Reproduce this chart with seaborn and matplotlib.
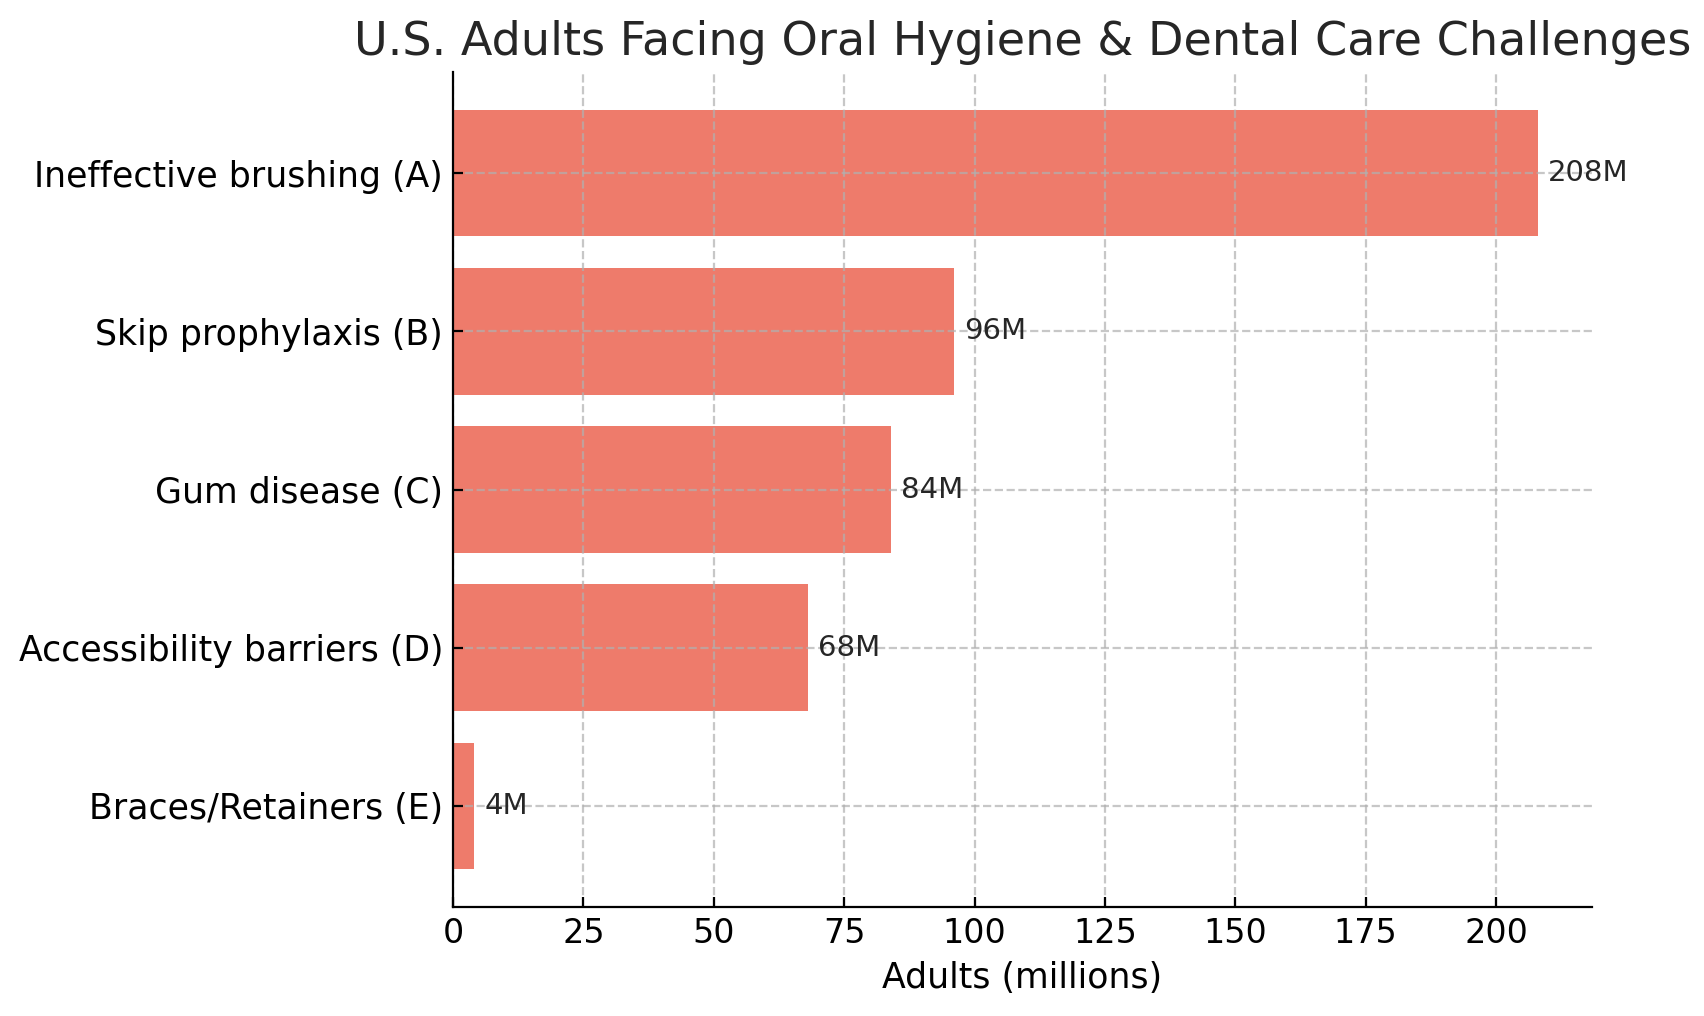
import matplotlib
matplotlib.use("Agg")
import matplotlib.pyplot as plt
import seaborn as sns
import pandas as pd

categories = [
    "Ineffective brushing (A)",
    "Skip prophylaxis (B)",
    "Gum disease (C)",
    "Accessibility barriers (D)",
    "Braces/Retainers (E)",
]
values = [208, 96, 84, 68, 4]
value_labels = ["208M", "96M", "84M", "68M", "4M"]

df = pd.DataFrame({"category": categories, "adults": values})

sns.set_style("ticks")
plt.rcParams["font.family"] = ["DejaVu Sans"]
plt.rcParams["axes.axisbelow"] = "line"

fig = plt.figure(figsize=(8.52, 5.08), dpi=200)
ax = fig.add_axes([0.2658, 0.1073, 0.9343 - 0.2658, 0.9291 - 0.1073])

sns.barplot(data=df, x="adults", y="category", order=categories,
            color="#EE7B6B", saturation=1, width=0.8, ax=ax,
            linewidth=0, zorder=1)

ax.set_ylim(len(categories) - 1 + 0.64, -0.64)
ax.margins(x=0.05)
ax.autoscale(axis="x")

for i, (v, lab) in enumerate(zip(values, value_labels)):
    ax.text(v + 2, i, lab, va="center", ha="left", fontsize=10.5, color="#262626")

ax.grid(True, linestyle="--", color="#b0b0b0", alpha=0.7, linewidth=0.8)
ax.set_axisbelow("line")

for s in ["top", "right"]:
    ax.spines[s].set_visible(False)
for s in ["left", "bottom"]:
    ax.spines[s].set_color("black")
    ax.spines[s].set_linewidth(0.8)

ax.tick_params(axis="both", direction="in", length=3.5, width=0.8, color="black",
               labelcolor="black")
ax.tick_params(axis="y", labelsize=12.5)
ax.tick_params(axis="x", labelsize=12)

ax.set_xlabel("Adults (millions)", fontsize=12.5, color="black")
ax.set_ylabel("")
ax.set_title("U.S. Adults Facing Oral Hygiene & Dental Care Challenges",
             fontsize=16.6, color="#262626")

fig.savefig("out.png", dpi=200)
